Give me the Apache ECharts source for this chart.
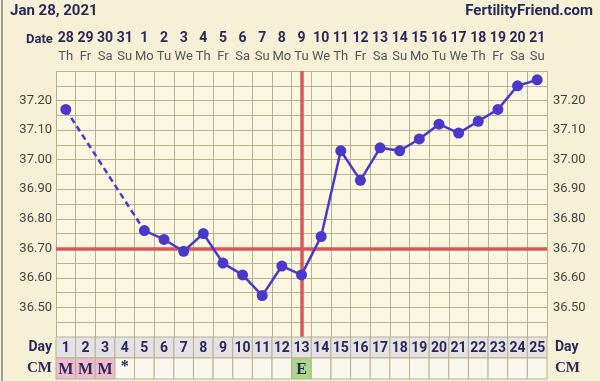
<!DOCTYPE html>
<html><head><meta charset="utf-8">
<script src="https://cdn.jsdelivr.net/npm/echarts@6/dist/echarts.min.js"></script>
<style>html,body{margin:0;padding:0;background:#f6f1d6;}#c{width:600px;height:381px;}</style>
</head><body><div id="c"></div>
<script>
const chartDate = 'Jan 28, 2021';
const siteName = 'FertilityFriend.com';
const dates = ['28','29','30','31','1','2','3','4','5','6','7','8','9','10','11','12','13','14','15','16','17','18','19','20','21'];
const weekdays = ['Th','Fr','Sa','Su','Mo','Tu','We','Th','Fr','Sa','Su','Mo','Tu','We','Th','Fr','Sa','Su','Mo','Tu','We','Th','Fr','Sa','Su'];
const cycleDays = ['1','2','3','4','5','6','7','8','9','10','11','12','13','14','15','16','17','18','19','20','21','22','23','24','25'];
const temps = [37.17,null,null,null,36.76,36.73,36.69,36.75,36.65,36.61,36.54,36.64,36.61,36.74,37.03,36.93,37.04,37.03,37.07,37.12,37.09,37.13,37.17,37.25,37.27];
const cervicalMucus = ['M','M','M','*','','','','','','','','','E','','','','','','','','','','','',''];
const coverline = 36.70;
const ovulationDay = 13;
const tempMin = 36.40, tempMax = 37.30, tempStep = 0.05;

// dashed segment bridges the missing days
const dashed = temps.map((v,i)=> (i===0 || i===4) ? v : null);

const navy = '#2b2858';
const gridColor = '#b8b192';
const lineColor = '#4a38c8';
const red = '#d6585a';
const cmColors = {'M':'#f0bccd','E':'#a8d98a'};

const cellTexts = cycleDays.concat(cervicalMucus);
const cellData = cycleDays.map((d,i)=>[i,1]).concat(cervicalMucus.map((m,i)=>[i,0]));

const chart = echarts.init(document.getElementById('c'), null, {renderer:'canvas'});
function yLabel(v){
  const r = Math.round(v*100);
  return (r % 10 === 0) ? (r/100).toFixed(2) : '';
}
const option = {
  backgroundColor: '#f6f1d6',
  animation: false,
  title: [
    {text: chartDate, left: 10, top: 4, padding:0, textStyle:{fontFamily:'Roboto', fontWeight:'bold', fontSize:15, color:navy}},
    {text: siteName, right: 7, top: 4, padding:0, textStyle:{fontFamily:'Roboto', fontWeight:'bold', fontSize:15, color:navy}}
  ],
  graphic: [
    {type:'line', shape:{x1:2,y1:0,x2:2,y2:381}, style:{stroke:'#9a9a9a', lineWidth:2}},
    {type:'text', left: 26, top: 33, style:{text:'Date', font:'bold 13px Roboto', fill:navy}}
  ],
  grid: [
    {left:56, right:53, top:71, bottom:44, show:true, backgroundColor:'#fbf7e1', borderWidth:0},
    {left:56, right:53, top:337, height:42, show:false}
  ],
  xAxis: [
    {type:'category', gridIndex:0, data: dates, position:'top', boundaryGap:true,
     axisLine:{show:false}, axisTick:{show:false},
     splitLine:{show:true, interval:0, lineStyle:{color:gridColor, width:1}},
     axisLabel:{interval:0, margin:5, formatter:(v,i)=>'{d|'+v+'}\n{w|'+weekdays[i]+'}',
       rich:{d:{fontFamily:'Roboto', fontWeight:'bold', fontSize:14, color:navy, lineHeight:19},
             w:{fontFamily:'Roboto', fontSize:13, color:'#555', lineHeight:18}}}},
    {type:'category', gridIndex:1, data: cycleDays, show:false}
  ],
  yAxis: [
    {type:'value', gridIndex:0, min:tempMin, max:tempMax, interval:tempStep, position:'left',
     axisLine:{show:false}, axisTick:{show:false},
     splitLine:{show:true, lineStyle:{color:gridColor, width:1}},
     axisLabel:{showMinLabel:false, showMaxLabel:false, formatter:yLabel, margin:4, fontFamily:'Roboto', fontSize:13, color:'#444'}},
    {type:'value', gridIndex:0, min:tempMin, max:tempMax, interval:tempStep, position:'right',
     axisLine:{show:false}, axisTick:{show:false}, splitLine:{show:false},
     axisLabel:{showMinLabel:false, showMaxLabel:false, formatter:yLabel, margin:6, fontFamily:'Roboto', fontSize:13, color:'#444'}},
    {type:'category', gridIndex:1, data:['CM','Day'], position:'left',
     axisLine:{show:false}, axisTick:{show:false}, splitLine:{show:false},
     axisLabel:{margin:4, fontFamily:'Roboto', fontWeight:'bold', fontSize:14, color:navy,
       formatter:v=> v==='CM' ? '{s|CM}' : v, rich:{s:{fontFamily:'Liberation Serif', fontWeight:'bold', fontSize:15, color:navy}}}},
    {type:'category', gridIndex:1, data:['CM','Day'], position:'right',
     axisLine:{show:false}, axisTick:{show:false}, splitLine:{show:false},
     axisLabel:{margin:8, fontFamily:'Roboto', fontWeight:'bold', fontSize:14, color:navy,
       formatter:v=> v==='CM' ? '{s|CM}' : v, rich:{s:{fontFamily:'Liberation Serif', fontWeight:'bold', fontSize:15, color:navy}}}}
  ],
  series: [
    {type:'line', xAxisIndex:0, yAxisIndex:0, data: dashed, connectNulls:true, symbol:'none',
     lineStyle:{color:lineColor, width:2.5, type:[6,4]}, z:3},
    {type:'line', xAxisIndex:0, yAxisIndex:0, data: temps, connectNulls:false, symbol:'circle', symbolSize:11,
     itemStyle:{color:lineColor}, lineStyle:{color:lineColor, width:2.5}, z:4,
     markLine:{silent:true, symbol:'none', label:{show:false}, z:2,
       lineStyle:{color:red, width:3.5, type:'solid'},
       data:[{yAxis: coverline}, {xAxis: String(dates[ovulationDay-1])}]}},
    {type:'custom', xAxisIndex:1, yAxisIndex:2, data: cellData,
     renderItem: function(params, api){
       const x = api.value(0), y = api.value(1);
       const txt = cellTexts[params.dataIndex];
       const c = api.coord([x,y]);
       const w = api.size([1,1]);
       const rx = c[0]-w[0]/2, ry = c[1]-w[1]/2;
       let fill = y===1 ? '#e4e2e5' : '#faf8ee';
       if (y===0 && cmColors[txt]) fill = cmColors[txt];
       const isCM = y===0;
       return {type:'group', children:[
         {type:'rect', shape:{x:rx, y:ry, width:w[0], height:w[1]}, style:{fill:fill, stroke:gridColor, lineWidth:1}},
         {type:'text', style:{text:txt, x:c[0], y:c[1]+(txt==='*'?-2:1), align:'center', verticalAlign:'middle',
           font: isCM ? 'bold 16px "Liberation Serif"' : 'bold 14px Roboto', fill:navy}}
       ]};
     }}
  ]
};
chart.setOption(option);
</script></body></html>
